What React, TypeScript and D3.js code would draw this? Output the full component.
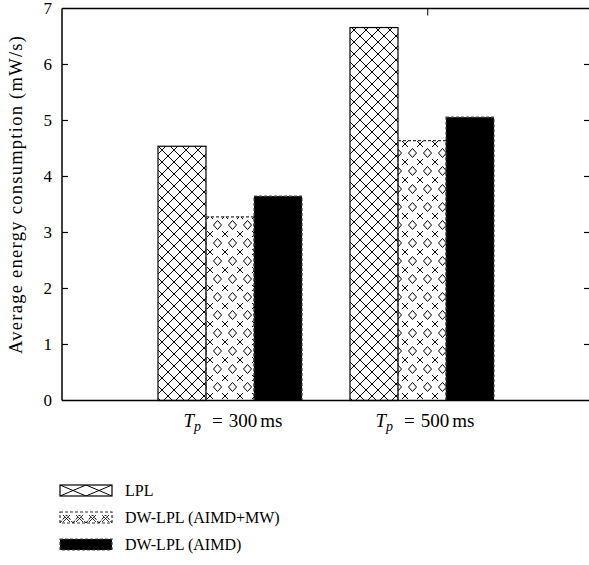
import React from 'react';
import {scaleLinear} from 'd3';

// energy consumption (mW/s)
const groups = ['300', '500'];
const seriesNames = ['LPL', 'DW-LPL (AIMD+MW)', 'DW-LPL (AIMD)'];
const lplValues = [4.54, 6.66];
const mwValues = [3.28, 4.64];
const aimdValues = [3.65, 5.06];
const yTicks = [0, 1, 2, 3, 4, 5, 6, 7];

const width = 589;
const height = 565;
const margin = {top: 8.5, left: 62, bottom: 400.5};
const barWidth = 0.25; // in x units

const font = '"Liberation Serif", "DejaVu Serif", serif';

const series = [
  {name: seriesNames[0], values: lplValues, fill: 'url(#hatchLpl)', legendFill: 'url(#hatchLplLeg)', stroke: '#000', dash: 'none'},
  {name: seriesNames[1], values: mwValues, fill: 'url(#hatchMw)', legendFill: 'url(#hatchMwLeg)', stroke: '#333', dash: '3,2'},
  {name: seriesNames[2], values: aimdValues, fill: '#000', legendFill: '#000', stroke: '#444', dash: '3,2'},
];

export default function App() {
  // groups sit at x = 1 and x = 2
  const xScale = scaleLinear().domain([0.125, 2.875]).range([margin.left, 590]);
  const yScale = scaleLinear().domain([0, 7]).range([margin.bottom, margin.top]);
  const bw = xScale(barWidth) - xScale(0);

  return (
    <svg width={width} height={height} style={{position: 'absolute', left: 0, top: 0, background: '#fff'}}>
      <defs>
        <pattern id="hatchLpl" patternUnits="userSpaceOnUse" width={12} height={12}>
          <path d="M0,0L12,12M12,0L0,12" stroke="#000" strokeWidth={1} />
        </pattern>
        <pattern id="hatchMw" patternUnits="userSpaceOnUse" width={15} height={18}>
          <path d="M7.5,4.5L11.5,9L7.5,13.5L3.5,9Z" fill="none" stroke="#000" strokeWidth={1} />
          <path d="M0,0L3,3M15,0L12,3M0,18L3,15M15,18L12,15" stroke="#000" strokeWidth={1} />
        </pattern>
        <pattern id="hatchLplLeg" patternUnits="userSpaceOnUse" width={26} height={11} x={60} y={485}>
          <path d="M0,0L26,11M26,0L0,11" stroke="#000" strokeWidth={1} />
        </pattern>
        <pattern id="hatchMwLeg" patternUnits="userSpaceOnUse" width={13} height={11} x={60} y={512}>
          <path d="M0,11L6.5,3L13,11" fill="none" stroke="#000" strokeWidth={1} strokeDasharray="3,1.5" />
          <path d="M3,3L10,10M10,3L3,10" stroke="#000" strokeWidth={0.8} />
        </pattern>
      </defs>

      {/* bars */}
      {groups.map((g, gi) => (
        <g key={g}>
          {series.map((s, si) => {
            const cx = xScale(gi + 1 + (si - 1) * barWidth);
            const y = yScale(s.values[gi]);
            return (
              <rect
                key={s.name}
                x={cx - bw / 2}
                y={y}
                width={bw}
                height={yScale(0) - y}
                fill={s.fill}
                stroke={s.stroke}
                strokeWidth={1.2}
                strokeDasharray={s.dash}
              />
            );
          })}
        </g>
      ))}

      {/* frame */}
      <line x1={margin.left} x2={width} y1={margin.top} y2={margin.top} stroke="#000" strokeWidth={1.5} />
      <line x1={margin.left} x2={width} y1={margin.bottom} y2={margin.bottom} stroke="#000" strokeWidth={1.5} />
      <line x1={margin.left} x2={margin.left} y1={margin.top} y2={margin.bottom} stroke="#000" strokeWidth={1.5} />
      <line x1={xScale(2.03)} x2={xScale(2.03)} y1={margin.top} y2={margin.top + 7} stroke="#000" strokeWidth={1} />

      {/* y ticks */}
      {yTicks.map((t) => (
        <g key={t} transform={`translate(0, ${yScale(t)})`}>
          {t > 0 && t < 7 && (
            <>
              <line x1={margin.left} x2={margin.left + 6} stroke="#000" strokeWidth={1.2} />
              <line x1={xScale(2.875) - 6} x2={xScale(2.875)} stroke="#000" strokeWidth={1.2} />
            </>
          )}
          <text x={52} dy="0.35em" textAnchor="end" fontFamily={font} fontSize={17}>{t}</text>
        </g>
      ))}

      <text
        transform={`translate(22, 195) rotate(-90)`}
        textAnchor="middle"
        fontFamily={font}
        fontSize={18.5}
        textLength={318}
        lengthAdjust="spacing"
      >Average energy consumption (mW/s)</text>

      {/* category labels */}
      {groups.map((g, gi) => (
        <text key={g} x={xScale(gi + 1) + 3} y={427} textAnchor="middle" fontFamily={font} fontSize={19}>
          <tspan fontStyle="italic">T</tspan>
          <tspan fontStyle="italic" fontSize={14} dy={4}>p</tspan>
          <tspan dy={-4} dx={11}>=</tspan>
          <tspan dx={6}>{g}</tspan>
          <tspan dx={3}>ms</tspan>
        </text>
      ))}

      {/* legend */}
      {series.map((s, i) => {
        const y = 485 + i * 27;
        return (
          <g key={s.name}>
            <rect
              x={60}
              y={y}
              width={52}
              height={11}
              fill={s.legendFill}
              stroke={s.stroke}
              strokeWidth={1.2}
              strokeDasharray={s.dash}
            />
            <text x={125} y={y + 5.5} dy="0.35em" fontFamily={font} fontSize={16}>{s.name}</text>
          </g>
        );
      })}
    </svg>
  );
}
